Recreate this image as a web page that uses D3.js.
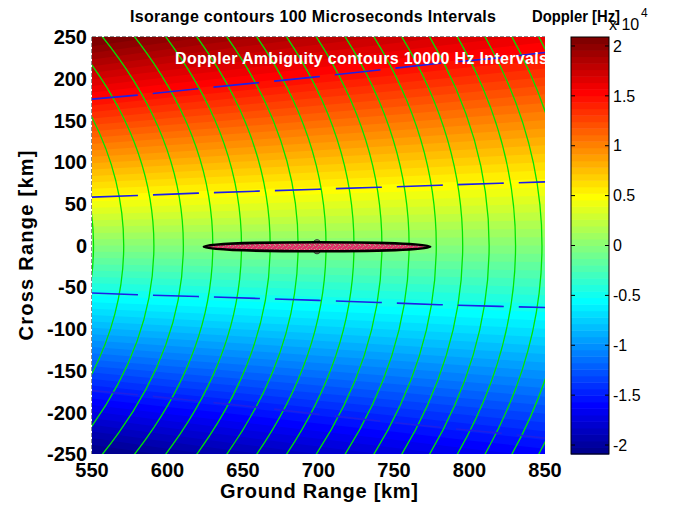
<!DOCTYPE html>
<html>
<head>
<meta charset="utf-8">
<script src="https://cdn.jsdelivr.net/npm/d3@7"></script>
<style>
  body { margin: 0; background: #fff; }
  svg { display: block; font-family: "Liberation Sans", Arial, Helvetica, sans-serif; }
</style>
</head>
<body>
<svg id="chart" width="674" height="505"></svg>
<script>
// ---- Data -------------------------------------------------------------
// Sampling grid of the Doppler field (km)
const gridGroundRange = [550, 600, 650, 700, 750, 800, 850];
const gridCrossRange  = [250, 200, 150, 100, 50, 0, -50, -100, -150, -200, -250];

// Doppler centroid (x 10^4 Hz), one row per cross-range sample, columns follow gridGroundRange
const dopplerRows = [
  [ 2.116,  2.008,  1.914,  1.827,  1.748,  1.674,  1.607],
  [ 1.705,  1.618,  1.543,  1.472,  1.409,  1.348,  1.295],
  [ 1.286,  1.221,  1.164,  1.111,  1.064,  1.018,  0.977],
  [ 0.861,  0.818,  0.779,  0.744,  0.712,  0.681,  0.654],
  [ 0.432,  0.410,  0.391,  0.373,  0.357,  0.342,  0.328],
  [ 0.000,  0.000,  0.000,  0.000,  0.000,  0.000,  0.000],
  [-0.432, -0.410, -0.391, -0.373, -0.357, -0.342, -0.328],
  [-0.861, -0.818, -0.779, -0.744, -0.712, -0.681, -0.654],
  [-1.286, -1.221, -1.164, -1.111, -1.064, -1.018, -0.977],
  [-1.705, -1.618, -1.543, -1.472, -1.409, -1.348, -1.295],
  [-2.116, -2.008, -1.914, -1.827, -1.748, -1.674, -1.607]
];
const dopplerLimits = [-2.09, 2.09];
const colorCount = 64;

// Isorange contours (100 us steps): ground range where each crosses zero cross range (km)
const isorangeRadii = [551, 571, 591, 610.5, 630, 649, 668, 686.5, 705, 723.5,
                       742, 760, 778, 795.5, 813, 830.5, 848, 865, 882];

// Doppler ambiguity contours: cross range (km) at these ground ranges
const ambiguityGround  = [550, 580, 620, 660, 700, 740, 780, 820, 850];
const ambiguityPlus15  = [175.5, 180.3, 188, 195.2, 202.5, 210.5, 218.5, 225, 231.5];
const ambiguityPlus05  = [58, 60, 62.8, 65.2, 67.5, 69.8, 72.2, 74.6, 76.3];
const ambiguityMinus05 = [-57, -59, -61.2, -63.5, -65.8, -68.3, -71, -73, -74.3];
const ambiguityMinus15 = [-174, -179, -186.5, -194, -202.5, -210.5, -218, -225, -231];

// Antenna footprint on the ground (km)
const footprintCenter = [699, -1.5];
const footprintSemiAxes = [75, 5.4];
const nadirMarkSemiAxes = [3.3, 8.5];

// Ticks
const groundTicks = [550, 600, 650, 700, 750, 800, 850];
const crossTicks = [-250, -200, -150, -100, -50, 0, 50, 100, 150, 200, 250];
const colorbarTicks = [-2, -1.5, -1, -0.5, 0, 0.5, 1, 1.5, 2];

// ---- Colormap (MATLAB-style jet, 64 entries, index 1..64) ------------
function jet(idx) {
  const n = 16;
  const u = [...d3.range(1, n + 1).map(i => i / n), ...Array(n - 1).fill(1),
             ...d3.range(n, 0, -1).map(i => i / n)];
  const ch = off => { const k = idx - off; return (k >= 1 && k <= u.length) ? u[k - 1] : 0; };
  return d3.rgb(ch(24) * 255, ch(8) * 255, ch(-8) * 255).toString();
}

// ---- Layout -----------------------------------------------------------
const svg = d3.select("#chart");
const plot = { left: 92, right: 545, top: 37, bottom: 454 };
const x = d3.scaleLinear().domain([550, 850]).range([plot.left, plot.right]);
const y = d3.scaleLinear().domain([-250, 250]).range([plot.bottom, plot.top]);

const defs = svg.append("defs");
defs.append("clipPath").attr("id", "plotClip")
  .append("rect")
  .attr("x", x(550)).attr("y", y(250))
  .attr("width", x(850) - x(550)).attr("height", y(-250) - y(250));

// speckled fill for the footprint
const pat = defs.append("pattern").attr("id", "speckle")
  .attr("patternUnits", "userSpaceOnUse").attr("width", 5).attr("height", 5);
pat.append("rect").attr("width", 5).attr("height", 5).attr("fill", "#e0326a");
[[0, 0, "#9cc27e"], [3, 1, "#86b873"], [1, 3, "#b89a8a"], [4, 4, "#a6c886"], [2, 2, "#ee4a80"]]
  .forEach(([px, py, c]) => pat.append("rect").attr("x", px).attr("y", py)
    .attr("width", 1).attr("height", 1).attr("fill", c));

const g = svg.append("g").attr("clip-path", "url(#plotClip)");

// ---- Doppler field as 64 colour bands --------------------------------
const step = (dopplerLimits[1] - dopplerLimits[0]) / colorCount;
const thresholds = d3.range(1, colorCount).map(k => dopplerLimits[0] + k * step);
const nx = gridGroundRange.length, ny = gridCrossRange.length;
const bands = d3.contours().size([nx, ny]).thresholds(thresholds)(dopplerRows.flat());

const gxKm = d3.scaleLinear().domain([0.5, nx - 0.5]).range([gridGroundRange[0], gridGroundRange[nx - 1]]);
const gyKm = d3.scaleLinear().domain([0.5, ny - 0.5]).range([gridCrossRange[0], gridCrossRange[ny - 1]]);
const gridPath = d3.geoPath(d3.geoTransform({
  point(gx, gy) { this.stream.point(x(gxKm(gx)), y(gyKm(gy))); }
}));

g.append("rect")
  .attr("x", x(550)).attr("y", y(250))
  .attr("width", x(850) - x(550)).attr("height", y(-250) - y(250))
  .attr("fill", jet(1));

g.append("g").selectAll("path").data(bands).join("path")
  .attr("d", gridPath)
  .attr("fill", (d, i) => jet(i + 2))
  .attr("stroke", "none");

// ---- Isorange contours (circles about the nadir origin) ---------------
g.append("g").selectAll("ellipse").data(isorangeRadii).join("ellipse")
  .attr("cx", x(0)).attr("cy", y(0))
  .attr("rx", r => x(r) - x(0))
  .attr("ry", r => y(0) - y(r))
  .attr("fill", "none")
  .attr("stroke", "#00e600")
  .attr("stroke-width", 1.3);

// ---- Doppler ambiguity contours --------------------------------------
const ambLine = d3.line().x(d => x(d[0])).y(d => y(d[1]));
[ambiguityPlus15, ambiguityPlus05, ambiguityMinus05, ambiguityMinus15].forEach(vals => {
  g.append("path")
    .attr("d", ambLine(d3.zip(ambiguityGround, vals)))
    .attr("fill", "none")
    .attr("stroke", "#1e1ee8")
    .attr("stroke-width", 1.6)
    .attr("stroke-dasharray", "46 15");
});

// ---- Footprint ---------------------------------------------------------
g.append("ellipse")
  .attr("cx", x(footprintCenter[0])).attr("cy", y(footprintCenter[1]))
  .attr("rx", x(footprintCenter[0] + nadirMarkSemiAxes[0]) - x(footprintCenter[0]))
  .attr("ry", y(footprintCenter[1]) - y(footprintCenter[1] + nadirMarkSemiAxes[1]))
  .attr("fill", "#7b9868").attr("stroke", "#333").attr("stroke-width", 1);

g.append("ellipse")
  .attr("cx", x(footprintCenter[0])).attr("cy", y(footprintCenter[1]))
  .attr("rx", x(footprintCenter[0] + footprintSemiAxes[0]) - x(footprintCenter[0]))
  .attr("ry", y(footprintCenter[1]) - y(footprintCenter[1] + footprintSemiAxes[1]))
  .attr("fill", "url(#speckle)").attr("stroke", "#000").attr("stroke-width", 2.5);

// in-plot annotation
g.append("text")
  .attr("x", 175).attr("y", 64)
  .attr("fill", "#fff").attr("font-weight", "bold").attr("font-size", 16)
  .attr("textLength", 373).attr("lengthAdjust", "spacing")
  .text("Doppler Ambiguity contours 10000 Hz Intervals");

// ---- Axes -------------------------------------------------------------
svg.append("line")
  .attr("x1", x(550)).attr("x2", x(850)).attr("y1", y(250) - 0.5).attr("y2", y(250) - 0.5)
  .attr("stroke", "#8a8a8a").attr("stroke-dasharray", "4 2");
svg.append("line")
  .attr("x1", x(550) - 0.5).attr("x2", x(550) - 0.5).attr("y1", y(250)).attr("y2", y(-250))
  .attr("stroke", "#8a8a8a").attr("stroke-dasharray", "4 2");

svg.append("g").selectAll("text").data(groundTicks).join("text")
  .attr("x", d => x(d)).attr("y", 477)
  .attr("text-anchor", "middle").attr("font-weight", "bold").attr("font-size", 20)
  .text(d => d);

svg.append("g").selectAll("text").data(crossTicks).join("text")
  .attr("x", 87).attr("y", d => y(d)).attr("dy", "0.36em")
  .attr("text-anchor", "end").attr("font-weight", "bold").attr("font-size", 20)
  .text(d => d);

svg.append("text")
  .attr("x", 319).attr("y", 498)
  .attr("text-anchor", "middle").attr("font-weight", "bold").attr("font-size", 20)
  .attr("textLength", 198).attr("lengthAdjust", "spacing")
  .text("Ground Range [km]");

svg.append("text")
  .attr("transform", `translate(33,${(y(250) + y(-250)) / 2}) rotate(-90)`)
  .attr("text-anchor", "middle").attr("font-weight", "bold").attr("font-size", 20)
  .attr("textLength", 190).attr("lengthAdjust", "spacing")
  .text("Cross Range [km]");

svg.append("text")
  .attr("x", 130).attr("y", 22)
  .attr("font-weight", "bold").attr("font-size", 16)
  .attr("textLength", 366).attr("lengthAdjust", "spacing")
  .text("Isorange contours 100 Microseconds Intervals");

// ---- Colorbar ---------------------------------------------------------
const cb = { left: 571, right: 609 };
const cy = d3.scaleLinear().domain(dopplerLimits).range([plot.bottom, plot.top]);
const cbg = svg.append("g");
cbg.selectAll("rect").data(d3.range(colorCount)).join("rect")
  .attr("x", cb.left).attr("width", cb.right - cb.left)
  .attr("y", k => cy(dopplerLimits[0] + (k + 1) * step))
  .attr("height", k => cy(dopplerLimits[0] + k * step) - cy(dopplerLimits[0] + (k + 1) * step) + 0.5)
  .attr("fill", k => jet(k + 1));
cbg.append("rect")
  .attr("x", cb.left).attr("y", cy(dopplerLimits[1]))
  .attr("width", cb.right - cb.left).attr("height", cy(dopplerLimits[0]) - cy(dopplerLimits[1]))
  .attr("fill", "none").attr("stroke", "#000").attr("stroke-width", 1);
cbg.selectAll("line.tl").data(colorbarTicks).join("line").attr("class", "tl")
  .attr("x1", cb.left).attr("x2", cb.left + 4).attr("y1", d => cy(d)).attr("y2", d => cy(d))
  .attr("stroke", "#000");
cbg.selectAll("line.tr").data(colorbarTicks).join("line").attr("class", "tr")
  .attr("x1", cb.right - 4).attr("x2", cb.right).attr("y1", d => cy(d)).attr("y2", d => cy(d))
  .attr("stroke", "#000");
cbg.selectAll("text").data(colorbarTicks).join("text")
  .attr("x", 613).attr("y", d => cy(d)).attr("dy", "0.36em")
  .attr("font-size", 16)
  .text(d => d);

svg.append("text")
  .attr("x", 532).attr("y", 22)
  .attr("font-weight", "bold").attr("font-size", 16)
  .attr("textLength", 88).attr("lengthAdjust", "spacingAndGlyphs")
  .text("Doppler [Hz]");
svg.append("text")
  .attr("x", 609).attr("y", 30).attr("font-size", 16)
  .text("x 10");
svg.append("text")
  .attr("x", 641).attr("y", 17).attr("font-size", 12)
  .text("4");
</script>
</body>
</html>
